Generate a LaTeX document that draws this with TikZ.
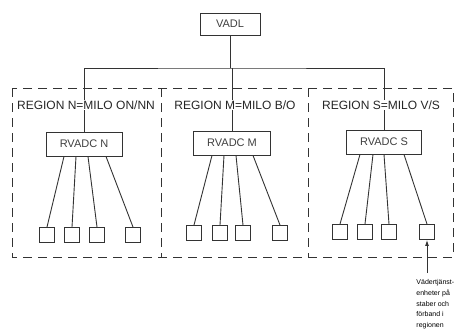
\documentclass[tikz,border=0pt]{standalone}
\usepackage{fontspec}
\setmainfont{Liberation Sans}
\usetikzlibrary{positioning}
\usetikzlibrary{arrows.meta}

\begin{document}
\begin{tikzpicture}[
        x=1pt, y=-1pt,
        line width=0.9pt, draw=black!80,
        box/.style={rectangle, draw, fill=white, minimum height=24pt, inner sep=1pt, font=\fontsize{11}{12}\selectfont, text=black!75},
        unit/.style={rectangle, draw, minimum size=15pt, inner sep=0pt},
        region/.style={fill=white, inner sep=1pt, font=\fontsize{12}{14}\selectfont, text=black!85},
        regionbox/.style={dash pattern=on 9pt off 6pt},
        note/.style={align=left, inner sep=0pt, font=\fontsize{7}{10.8}\selectfont},
        arrow/.style={-{Latex[length=6pt,width=4pt]}}
    ]
    \useasboundingbox (0,0) rectangle (456,335);

    % Top level
    \node[box, minimum width=60pt, minimum height=22pt] (vadl) at (230,24) {VADL};
    \coordinate (bus) at (230,68);

    % Regional centres
    \node[box, minimum width=76pt] (rvN) at (84,144) {RVADC N};
    \node[box, minimum width=77pt] (rvM) at (232,143) {RVADC M};
    \node[box, minimum width=75pt] (rvS) at (384,142) {RVADC S};

    \draw (vadl) -- (vadl |- bus);
    \draw (rvN.north) |- (bus) -| (rvS.north);
    \draw (rvM.north) -- (rvM.north |- bus);

    % Units
    \node[unit] (uN1) at (47,235) {};
    \node[unit] (uN2) at (72,235) {};
    \node[unit] (uN3) at (97,235) {};
    \node[unit] (uN4) at (133,235) {};
    \node[unit] (uM1) at (194,233) {};
    \node[unit] (uM2) at (220,233) {};
    \node[unit] (uM3) at (243,233) {};
    \node[unit] (uM4) at (280,233) {};
    \node[unit] (uS1) at (340,232) {};
    \node[unit] (uS2) at (365,232) {};
    \node[unit] (uS3) at (389,232) {};
    \node[unit] (uS4) at (427,232) {};

    \draw ([xshift=-20pt]rvN.south) -- (uN1.north);
    \draw ([xshift=-8pt]rvN.south) -- (uN2.north);
    \draw ([xshift=4pt]rvN.south) -- (uN3.north);
    \draw ([xshift=22pt]rvN.south) -- (uN4.north);
    \draw ([xshift=-20pt]rvM.south) -- (uM1.north);
    \draw ([xshift=-8pt]rvM.south) -- (uM2.north);
    \draw ([xshift=4pt]rvM.south) -- (uM3.north);
    \draw ([xshift=21pt]rvM.south) -- (uM4.north);
    \draw ([xshift=-24pt]rvS.south) -- (uS1.north);
    \draw ([xshift=-11pt]rvS.south) -- (uS2.north);
    \draw ([xshift=0pt]rvS.south) -- (uS3.north);
    \draw ([xshift=20pt]rvS.south) -- (uS4.north);

    % Region labels
    \node[region] (regN) at (86,105) {REGION N=MILO ON/NN};
    \node[region] (regM) at (235,105) {REGION M=MILO B/O};
    \node[region] (regS) at (381,105) {REGION S=MILO V/S};

    % Region borders
    \draw[regionbox] (12,88) rectangle (453,257);
    \draw[regionbox] (161,88) -- (161,257);
    \draw[regionbox] (308,88) -- (308,257);

    % Note
    \node[note, anchor=north west] (note) at (416,279) {Vädertjänst-\\enheter på\\staber och\\förband i\\regionen};
    \coordinate (tail) at (427,273);
    \draw[arrow] (tail) -- (uS4.south);

\end{tikzpicture}
\end{document}
